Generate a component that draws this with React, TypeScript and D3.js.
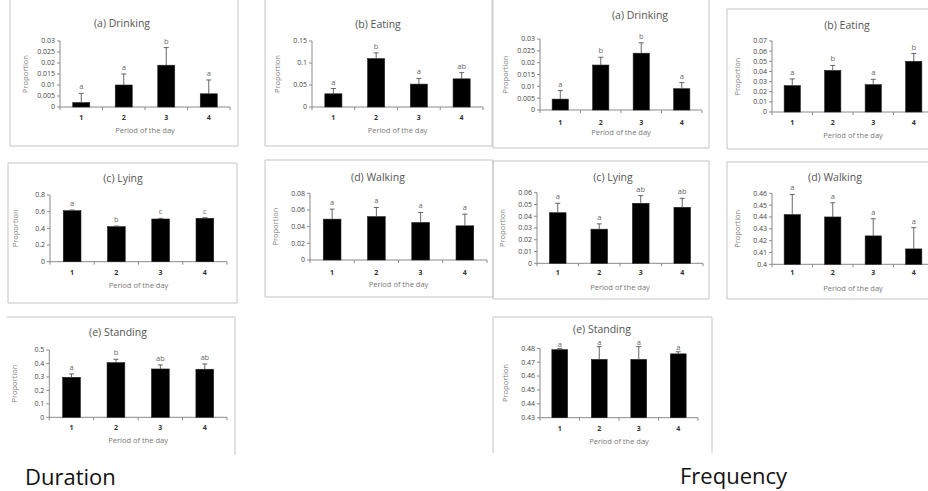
import React from "react";
import * as d3 from "d3";

const periods = ["1", "2", "3", "4"];

// ---- Duration ----
const durDrinking = [0.002, 0.01, 0.019, 0.006];
const durDrinkingErr = [0.0042, 0.005, 0.008, 0.0063];
const durDrinkingLetters = ["a", "a", "b", "a"];
const durDrinkingTicks = [0, 0.005, 0.01, 0.015, 0.02, 0.025, 0.03];

const durEating = [0.03, 0.11, 0.052, 0.064];
const durEatingErr = [0.012, 0.013, 0.013, 0.014];
const durEatingLetters = ["a", "b", "a", "ab"];
const durEatingTicks = [0, 0.05, 0.1, 0.15];

const durLying = [0.612, 0.42, 0.512, 0.52];
const durLyingErr = [0.008, 0.008, 0.008, 0.008];
const durLyingLetters = ["a", "b", "c", "c"];
const durLyingTicks = [0, 0.2, 0.4, 0.6, 0.8];

const durWalking = [0.049, 0.052, 0.045, 0.041];
const durWalkingErr = [0.012, 0.011, 0.012, 0.014];
const durWalkingLetters = ["a", "a", "a", "a"];
const durWalkingTicks = [0, 0.02, 0.04, 0.06, 0.08];

const durStanding = [0.297, 0.406, 0.359, 0.357];
const durStandingErr = [0.025, 0.025, 0.03, 0.039];
const durStandingLetters = ["a", "b", "ab", "ab"];
const durStandingTicks = [0, 0.1, 0.2, 0.3, 0.4, 0.5];

// ---- Frequency ----
const frqDrinking = [0.0046, 0.019, 0.024, 0.009];
const frqDrinkingErr = [0.0036, 0.0033, 0.0044, 0.0026];
const frqDrinkingLetters = ["a", "b", "b", "a"];
const frqDrinkingTicks = [0, 0.005, 0.01, 0.015, 0.02, 0.025, 0.03];

const frqEating = [0.026, 0.041, 0.027, 0.05];
const frqEatingErr = [0.0066, 0.0049, 0.0052, 0.0076];
const frqEatingLetters = ["a", "b", "a", "b"];
const frqEatingTicks = [0, 0.01, 0.02, 0.03, 0.04, 0.05, 0.06, 0.07];

const frqLying = [0.043, 0.029, 0.051, 0.0476];
const frqLyingErr = [0.008, 0.0045, 0.0065, 0.0076];
const frqLyingLetters = ["a", "a", "ab", "ab"];
const frqLyingTicks = [0, 0.01, 0.02, 0.03, 0.04, 0.05, 0.06];

const frqWalking = [0.442, 0.44, 0.424, 0.413];
const frqWalkingErr = [0.017, 0.012, 0.0145, 0.018];
const frqWalkingLetters = ["a", "a", "a", "a"];
const frqWalkingTicks = [0.4, 0.41, 0.42, 0.43, 0.44, 0.45, 0.46];

const frqStanding = [0.479, 0.472, 0.472, 0.476];
const frqStandingErr = [0.0008, 0.0092, 0.0092, 0.0015];
const frqStandingLetters = ["a", "a", "a", "a"];
const frqStandingTicks = [0.43, 0.44, 0.45, 0.46, 0.47, 0.48];

const FONT = "'Open Sans', 'DejaVu Sans', sans-serif";

type PanelProps = {
  title: string;
  values: number[];
  errs: number[];
  letters: string[];
  ticks: number[];
  frame: [number, number, number, number];
  sides?: string;
  plot: [number, number, number, number]; // left, right, top, bottom
  titleX: number;
  titleY: number;
  tickY: number;
  xTitleY: number;
  letterGap?: number;
};

function Panel(p: PanelProps) {
  const [left, right, top, bottom] = p.plot;
  const x = d3.scaleBand<string>().domain(periods).range([left, right]).paddingInner(0.6).paddingOuter(0.3);
  const y = d3
    .scaleLinear()
    .domain([p.ticks[0], p.ticks[p.ticks.length - 1]])
    .range([bottom, top]);
  const [fx, fy, fw, fh] = p.frame;
  const sides = p.sides || "tlrb";
  const step = (right - left) / periods.length;
  const bounds = d3.range(periods.length + 1).map((i) => left + i * step);
  const fmt = (v: number) => String(+v.toFixed(3));
  const gap = p.letterGap ?? 4;
  return (
    <g>
      {sides.includes("t") && <line x1={fx} x2={fx + fw} y1={fy} y2={fy} stroke="#c4c4c4" />}
      {sides.includes("b") && <line x1={fx} x2={fx + fw} y1={fy + fh} y2={fy + fh} stroke="#c4c4c4" />}
      {sides.includes("l") && <line x1={fx} x2={fx} y1={fy} y2={fy + fh} stroke="#c4c4c4" />}
      {sides.includes("r") && <line x1={fx + fw} x2={fx + fw} y1={fy} y2={fy + fh} stroke="#c4c4c4" />}
      <text x={p.titleX} y={p.titleY} textAnchor="middle" fontSize={10.5} fill="#555" fontFamily={FONT}>
        {p.title}
      </text>
      {/* y axis */}
      <line x1={left} x2={left} y1={top} y2={bottom} stroke="#8a8a8a" />
      {p.ticks.map((t) => (
        <g key={t}>
          <line x1={left - 3} x2={left} y1={y(t)} y2={y(t)} stroke="#8a8a8a" />
          <text x={left - 5} y={y(t) + 2.4} textAnchor="end" fontSize={7} fill="#444" fontFamily={FONT}>
            {fmt(t)}
          </text>
        </g>
      ))}
      <text
        transform={`translate(${left - 32},${(top + bottom) / 2}) rotate(-90)`}
        textAnchor="middle"
        fontSize={7.5}
        fill="#777"
        fontFamily={FONT}
      >
        Proportion
      </text>
      {/* x axis */}
      <line x1={left} x2={right} y1={bottom} y2={bottom} stroke="#8a8a8a" />
      {bounds.map((b, i) => (
        <line key={i} x1={b} x2={b} y1={bottom} y2={bottom + 3} stroke="#8a8a8a" />
      ))}
      {periods.map((c) => (
        <text
          key={c}
          x={(x(c) as number) + x.bandwidth() / 2}
          y={p.tickY}
          textAnchor="middle"
          fontSize={7}
          fontWeight="bold"
          fill="#333"
          fontFamily={FONT}
        >
          {c}
        </text>
      ))}
      <text x={(left + right) / 2} y={p.xTitleY} textAnchor="middle" fontSize={7.5} fill="#777" fontFamily={FONT}>
        Period of the day
      </text>
      {/* bars */}
      {periods.map((c, i) => {
        const cx = (x(c) as number) + x.bandwidth() / 2;
        const yTop = y(p.values[i]);
        const yErr = y(p.values[i] + p.errs[i]);
        return (
          <g key={c}>
            <rect x={x(c)} y={yTop} width={x.bandwidth()} height={bottom - yTop} fill="#000" stroke="#222" strokeWidth={0.6} />
            <line x1={cx} x2={cx} y1={yTop} y2={yErr} stroke="#555" strokeWidth={0.9} />
            <line x1={cx - 2.5} x2={cx + 2.5} y1={yErr} y2={yErr} stroke="#555" strokeWidth={0.9} />
            <text x={cx} y={yErr - gap} textAnchor="middle" fontSize={7.5} fill="#666" fontFamily={FONT}>
              {p.letters[i]}
            </text>
          </g>
        );
      })}
    </g>
  );
}

export default function App() {
  return (
    <svg
      width={928}
      height={491}
      style={{ position: "absolute", left: 0, top: 0, background: "#fff" }}
    >
      <rect width={928} height={491} fill="#fff" />
      {/* Duration column */}
      <Panel title="(a) Drinking" values={durDrinking} errs={durDrinkingErr} letters={durDrinkingLetters} ticks={durDrinkingTicks}
        frame={[10, -1, 228, 147]} plot={[60, 230, 41, 107]} titleX={122} titleY={27} tickY={120} xTitleY={133} />
      <Panel title="(b) Eating" values={durEating} errs={durEatingErr} letters={durEatingLetters} ticks={durEatingTicks}
        frame={[265, -1, 227, 147]} plot={[312, 483, 41, 107]} titleX={378} titleY={28} tickY={120} xTitleY={133} />
      <Panel title="(c) Lying" values={durLying} errs={durLyingErr} letters={durLyingLetters} ticks={durLyingTicks}
        frame={[8, 163, 229, 140]} plot={[50, 227, 195, 261.7]} titleX={123} titleY={182} tickY={274.5} xTitleY={288} />
      <Panel title="(d) Walking" values={durWalking} errs={durWalkingErr} letters={durWalkingLetters} ticks={durWalkingTicks}
        frame={[265, 160, 228, 137]} plot={[310, 487, 193.3, 260]} titleX={378} titleY={180.5} tickY={274.5} xTitleY={287} />
      <Panel title="(e) Standing" values={durStanding} errs={durStandingErr} letters={durStandingLetters} ticks={durStandingTicks}
        frame={[7, 317, 228, 138]} sides="tr" plot={[49.3, 227, 350, 417.3]} titleX={118} titleY={336} tickY={430} xTitleY={443} />
      {/* Frequency column */}
      <Panel title="(a) Drinking" values={frqDrinking} errs={frqDrinkingErr} letters={frqDrinkingLetters} ticks={frqDrinkingTicks}
        frame={[493, -1, 216, 149]} plot={[540, 702, 39, 110]} titleX={640} titleY={19} tickY={124.5} xTitleY={134.5} />
      <Panel title="(b) Eating" values={frqEating} errs={frqEatingErr} letters={frqEatingLetters} ticks={frqEatingTicks}
        frame={[727, 9, 205, 140]} plot={[772, 934, 41, 112]} titleX={847} titleY={29} tickY={124.5} xTitleY={138} />
      <Panel title="(c) Lying" values={frqLying} errs={frqLyingErr} letters={frqLyingLetters} ticks={frqLyingTicks}
        frame={[493, 161, 216, 138]} plot={[537, 703, 192.7, 263.3]} titleX={613} titleY={180.5} tickY={274.5} xTitleY={289.5} />
      <Panel title="(d) Walking" values={frqWalking} errs={frqWalkingErr} letters={frqWalkingLetters} ticks={frqWalkingTicks}
        frame={[727, 162, 205, 137]} plot={[772, 934, 193.3, 264.3]} titleX={835} titleY={180.5} tickY={274.5} xTitleY={290.5} />
      <Panel title="(e) Standing" values={frqStanding} errs={frqStandingErr} letters={frqStandingLetters} ticks={frqStandingTicks}
        frame={[493, 317, 219, 136]} sides="tlr" plot={[540, 698, 348.3, 417.7]} titleX={602} titleY={332.5} tickY={431} xTitleY={443.5} letterGap={1.5} />
      <text x={25} y={485} fontSize={22} fill="#111" fontFamily={FONT}>
        Duration
      </text>
      <text x={680} y={484} fontSize={22} fill="#111" fontFamily={FONT}>
        Frequency
      </text>
    </svg>
  );
}
